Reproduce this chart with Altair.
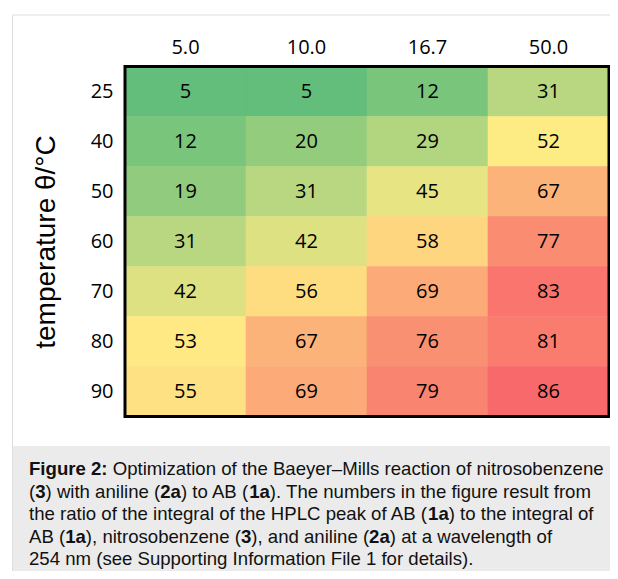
import altair as alt
import pandas as pd
import numpy as np

concentrations = ["5.0", "10.0", "16.7", "50.0"]
temperatures = [25, 40, 50, 60, 70, 80, 90]
row_25 = [5, 5, 12, 31]
row_40 = [12, 20, 29, 52]
row_50 = [19, 31, 45, 67]
row_60 = [31, 42, 58, 77]
row_70 = [42, 56, 69, 83]
row_80 = [53, 67, 76, 81]
row_90 = [55, 69, 79, 86]
rows = [row_25, row_40, row_50, row_60, row_70, row_80, row_90]

y_title = "temperature θ/°C"

caption_lines = [
    [("Figure 2:", True), (" Optimization of the Baeyer–Mills reaction of nitrosobenzene", False)],
    [("(", False), ("3", True), (") with aniline (", False), ("2a", True), (") to AB (", False),
     ("1a", True), ("). The numbers in the figure result from", False)],
    [("the ratio of the integral of the HPLC peak of AB (", False), ("1a", True),
     (") to the integral of", False)],
    [("AB (", False), ("1a", True), ("), nitrosobenzene (", False), ("3", True),
     ("), and aniline (", False), ("2a", True), (") at a wavelength of", False)],
    [("254 nm (see Supporting Information File 1 for details).", False)],
]

records = []
for t, r in zip(temperatures, rows):
    for c, v in zip(concentrations, r):
        records.append({"conc": c, "temp": t, "value": v})
df = pd.DataFrame(records)

all_vals = np.array(rows).flatten()
cmin, cmid, cmax = float(all_vals.min()), float(np.median(all_vals)), float(all_vals.max())

# Arial / Liberation Sans advance widths (per 1000 em)
REG = {c: 556 for c in "abdeghnopqu0123456789–"}
REG.update({"c": 500, "f": 278, "i": 222, "j": 222, "k": 500, "l": 222, "m": 833, "r": 333,
            "s": 500, "t": 278, "v": 500, "w": 722, "x": 500, "y": 500, "z": 500,
            "A": 667, "B": 667, "C": 722, "D": 722, "E": 667, "F": 611, "G": 778, "H": 722,
            "I": 278, "J": 500, "K": 667, "L": 556, "M": 833, "N": 722, "O": 778, "P": 667,
            "Q": 778, "R": 722, "S": 667, "T": 611, "U": 722, "V": 667, "W": 944, "X": 667,
            "Y": 667, "Z": 611, " ": 278, "(": 333, ")": 333, ".": 278, ",": 278, ":": 278})
BOLD = {c: 556 for c in "0123456789ae"}
BOLD.update({"F": 611, "i": 278, "g": 611, "u": 611, "r": 389, " ": 278, ":": 333})

FS = 18.6
W, H = 484, 350
PAD_L, PAD_T = 117, 58.5
TOTAL_W, TOTAL_H = 602, 563
right_px = TOTAL_W - PAD_L
bottom_px = TOTAL_H - PAD_T

cap_x0 = 29 - 8 - PAD_L
cap_y0 = 475 - 8 - PAD_T
line_h = 22.5

layers = []

frame_color = "#dedede"
one = pd.DataFrame({"a": [0]})
layers.append(alt.Chart(one).mark_rule(color=frame_color, strokeWidth=1).encode(
    x=alt.value(12.5 - 8 - PAD_L), y=alt.value(15 - 8 - PAD_T), y2=alt.value(bottom_px)))
layers.append(alt.Chart(one).mark_rule(color=frame_color, strokeWidth=1).encode(
    x=alt.value(12.5 - 8 - PAD_L), x2=alt.value(right_px), y=alt.value(15 - 8 - PAD_T)))
layers.append(alt.Chart(one).mark_rect(color="#ebebeb").encode(
    x=alt.value(13 - 8 - PAD_L), x2=alt.value(right_px), y=alt.value(446 - 8 - PAD_T), y2=alt.value(bottom_px)))

xenc = alt.X("conc:N", sort=concentrations, title=None,
             scale=alt.Scale(paddingInner=0, paddingOuter=0),
             axis=alt.Axis(orient="top", ticks=False, domain=False, labelAngle=0,
                           labelFont="Open Sans", labelFontSize=20, labelColor="black",
                           labelPadding=9))
yenc = alt.Y("temp:O", sort=temperatures, title=y_title,
             scale=alt.Scale(paddingInner=0, paddingOuter=0),
             axis=alt.Axis(ticks=False, domain=False, labelFont="Open Sans", labelFontSize=20,
                           labelColor="black", labelPadding=12, titleFont="Liberation Sans",
                           titleFontSize=28, titleFontWeight="normal", titleColor="black",
                           titlePadding=30))

color_scale = alt.Scale(domain=[cmin, cmid, cmax],
                        range=["#63BE7B", "#FFEB84", "#F8696B"],
                        interpolate="rgb")
heat = alt.Chart(df).mark_rect(strokeWidth=0.6).encode(
    x=xenc, y=yenc,
    color=alt.Color("value:Q", legend=None, scale=color_scale),
    stroke=alt.Stroke("value:Q", legend=None, scale=color_scale))
labels = alt.Chart(df).mark_text(font="Open Sans", fontSize=20, color="black", baseline="middle").encode(
    x=alt.X("conc:N", sort=concentrations), y=alt.Y("temp:O", sort=temperatures), text="value:Q")
border = alt.Chart(one).mark_rect(filled=False, stroke="black", strokeWidth=3).encode(
    x=alt.value(0), x2=alt.value(W), y=alt.value(0), y2=alt.value(H))
layers += [heat, labels, border]

for i, line in enumerate(caption_lines):
    cursor = cap_x0
    for seg, bold in line:
        table = BOLD if bold else REG
        stripped = seg.lstrip(" ")
        lead = (len(seg) - len(stripped)) * table[" "] * FS / 1000.0
        layers.append(
            alt.Chart(pd.DataFrame({"t": [stripped.rstrip(" ")]})).mark_text(
                font="Liberation Sans", fontSize=FS, align="left", baseline="alphabetic",
                color="#111111", fontWeight="bold" if bold else "normal").encode(
                text="t:N", x=alt.value(cursor + lead), y=alt.value(cap_y0 + i * line_h)))
        cursor += sum(table[ch] for ch in seg) * FS / 1000.0

chart = alt.layer(*layers).properties(
    width=W, height=H,
    autosize=alt.AutoSizeParams(type="none"),
    padding={"left": PAD_L, "top": PAD_T, "right": TOTAL_W - PAD_L - W, "bottom": TOTAL_H - PAD_T - H},
).configure_view(stroke=None)

chart.save("out.html", embed_options={"renderer": "svg", "actions": False})
